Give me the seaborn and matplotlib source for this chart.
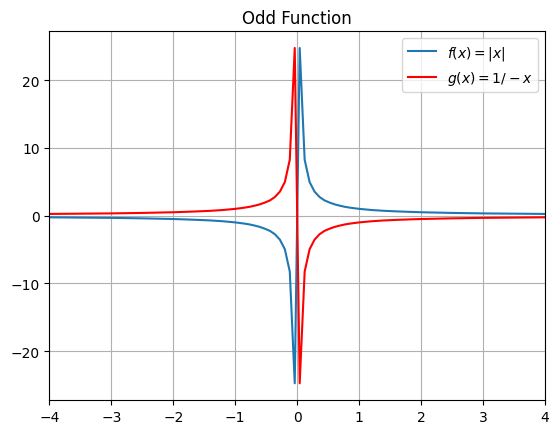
import matplotlib
matplotlib.use("Agg")
import matplotlib.pyplot as plt
import seaborn as sns
import pandas as pd

x_vals = [-4.0, -3.5, -3.0, -2.5, -2.0, -1.8, -1.6, -1.4, -1.2, -1.01, -0.93, -0.85,
          -0.77, -0.69, -0.61, -0.53, -0.44, -0.36, -0.28, -0.20, -0.12, -0.04,
          0.04, 0.12, 0.20, 0.28, 0.36, 0.44, 0.53, 0.61, 0.69, 0.77, 0.85, 0.93,
          1.01, 1.2, 1.4, 1.6, 1.8, 2.0, 2.5, 3.0, 3.5, 4.0]
f_vals = [-0.25, -0.29, -0.33, -0.40, -0.50, -0.56, -0.63, -0.71, -0.83, -0.99, -1.08, -1.18,
          -1.30, -1.46, -1.65, -1.90, -2.25, -2.75, -3.54, -4.95, -8.25, -24.75,
          24.75, 8.25, 4.95, 3.54, 2.75, 2.25, 1.90, 1.65, 1.46, 1.30, 1.18, 1.08,
          0.99, 0.83, 0.71, 0.63, 0.56, 0.50, 0.40, 0.33, 0.29, 0.25]
g_vals = [0.25, 0.29, 0.33, 0.40, 0.50, 0.56, 0.63, 0.71, 0.83, 0.99, 1.08, 1.18,
          1.30, 1.46, 1.65, 1.90, 2.25, 2.75, 3.54, 4.95, 8.25, 24.75,
          -24.75, -8.25, -4.95, -3.54, -2.75, -2.25, -1.90, -1.65, -1.46, -1.30, -1.18, -1.08,
          -0.99, -0.83, -0.71, -0.63, -0.56, -0.50, -0.40, -0.33, -0.29, -0.25]

df = pd.DataFrame({"x": x_vals, "f": f_vals, "g": g_vals})

fig = plt.figure(figsize=(5.59, 4.35), dpi=100)
ax = fig.add_axes([0.0882, 0.078, 0.887, 0.848])
sns.lineplot(data=df, x="x", y="f", ax=ax, color="#1f77b4", label="$f(x) = |x|$", sort=False)
sns.lineplot(data=df, x="x", y="g", ax=ax, color="red", label="$g(x) = 1/-x$", sort=False)
ax.set_xlim(-4, 4)
ax.set_xlabel("")
ax.set_ylabel("")
ax.set_title("Odd Function")
ax.grid(True)
ax.legend(loc="upper right")
fig.savefig("out.png", dpi=100)
